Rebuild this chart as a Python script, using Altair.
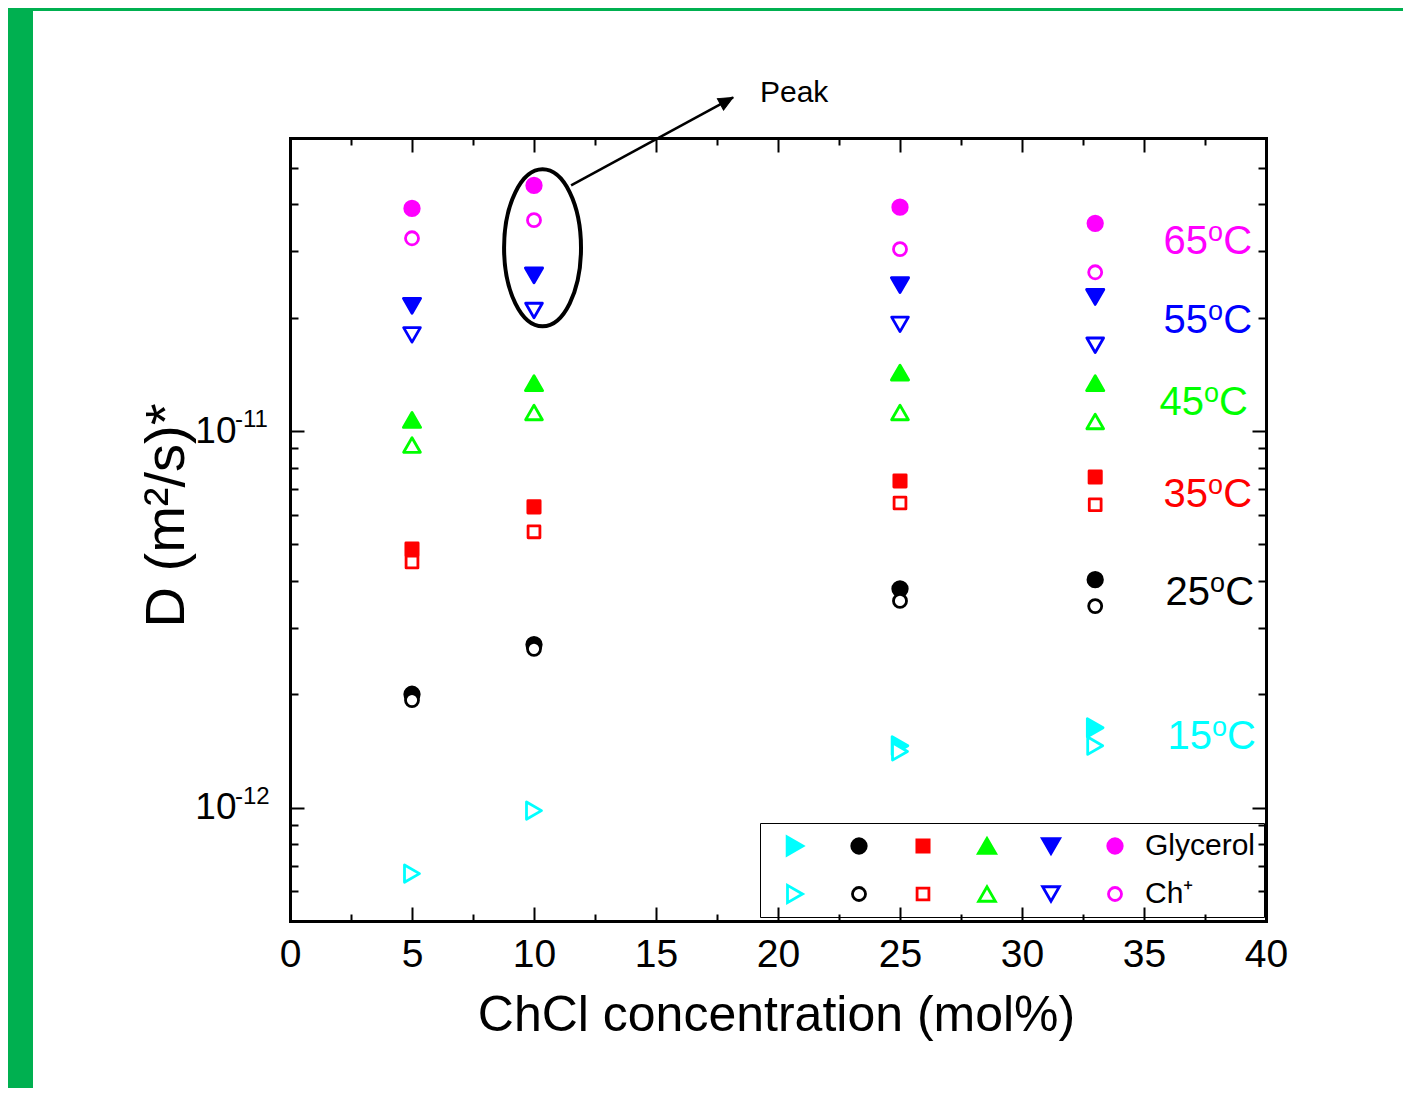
import altair as alt
import pandas as pd

# ---------------- data ----------------
conc = [5, 10, 25, 33]
temps = ["15", "25", "35", "45", "55", "65"]
temp_colors = ["#00FFFF", "#000000", "#FF0000", "#00FF00", "#0000FF", "#FF00FF"]
temp_shapes = ["triangle-right", "circle", "square", "triangle-up", "triangle-down", "circle"]

# Glycerol (filled symbols), D in m^2/s, per temperature, at conc = 5, 10, 25, 33
gly_15 = [None, None, 1.46e-12, 1.63e-12]
gly_25 = [2.00e-12, 2.71e-12, 3.81e-12, 4.03e-12]
gly_35 = [4.86e-12, 6.29e-12, 7.37e-12, 7.55e-12]
gly_45 = [1.07e-11, 1.34e-11, 1.43e-11, 1.34e-11]
gly_55 = [2.15e-11, 2.59e-11, 2.44e-11, 2.27e-11]
gly_65 = [3.90e-11, 4.49e-11, 3.93e-11, 3.56e-11]

# Ch+ (open symbols)
ch_15 = [6.68e-13, 9.82e-13, 1.41e-12, 1.46e-12]
ch_25 = [1.93e-12, 2.64e-12, 3.54e-12, 3.43e-12]
ch_35 = [4.49e-12, 5.40e-12, 6.44e-12, 6.37e-12]
ch_45 = [9.18e-12, 1.12e-11, 1.12e-11, 1.06e-11]
ch_55 = [1.80e-11, 2.09e-11, 1.92e-11, 1.69e-11]
ch_65 = [3.25e-11, 3.63e-11, 3.04e-11, 2.64e-11]

gly_series = [gly_15, gly_25, gly_35, gly_45, gly_55, gly_65]
ch_series = [ch_15, ch_25, ch_35, ch_45, ch_55, ch_65]

# temperature labels on the right
label_temps = ["65", "55", "45", "35", "25", "15"]
label_colors = ["#FF00FF", "#0000FF", "#00FF00", "#FF0000", "#000000", "#00FFFF"]
label_D = [3.17e-11, 1.96e-11, 1.19e-11, 6.77e-12, 3.72e-12, 1.54e-12]
label_xend = [39.43, 39.43, 39.26, 39.43, 39.51, 39.59]

# tick values
x_major = [0, 5, 10, 15, 20, 25, 30, 35, 40]
x_minor = [2.5, 7.5, 12.5, 17.5, 22.5, 27.5, 32.5, 37.5]
y_major = [1e-12, 1e-11]
y_minor = [5e-13, 6e-13, 7e-13, 8e-13, 9e-13,
           2e-12, 3e-12, 4e-12, 5e-12, 6e-12, 7e-12, 8e-12, 9e-12,
           2e-11, 3e-11, 4e-11, 5e-11, 6e-11]
y_sup = ["-12", "-11"]

# "Peak" annotation (ellipse around the 10 mol% peak, arrow, text)
peak_ellipse_x = [10.35]
peak_ellipse_D = [3.066e-11]
arrow_x = [11.52]
arrow_D = [4.49e-11]
arrow_x2 = [18.16]
arrow_D2 = [7.69e-11]
peak_text_x = [19.26]
peak_text_D = [7.88e-11]

# ---------------- tables ----------------
keys_g = ["G" + t for t in temps]
keys_c = ["C" + t for t in temps]
keys = keys_g + keys_c

rows = []
for series, prefix in ((gly_series, "G"), (ch_series, "C")):
    for t, vals in zip(temps, series):
        for c, v in zip(conc, vals):
            if v is not None:
                rows.append({"conc": c, "D": v, "key": prefix + t})
pts = pd.DataFrame(rows)

fill_range = temp_colors + ["white"] * 6
stroke_range = temp_colors + temp_colors
shape_range = temp_shapes + temp_shapes
size_range = [330, 210, 150, 296, 296, 210] + [300, 170, 140, 280, 280, 170]

FONT = "Liberation Sans"
XS = alt.Scale(domain=[0, 40], nice=False, zero=False)
YS = alt.Scale(type="log", domain=[5e-13, 6e-11], nice=False)


def X(field, axis=None):
    return alt.X(field, type="quantitative", scale=XS, axis=axis)


def Y(field, axis=None):
    return alt.Y(field, type="quantitative", scale=YS, axis=axis)


# ---------------- background (green frame) ----------------
bg = alt.Chart(pd.DataFrame({"a": [0]})).mark_rect(color="white").encode(
    x=alt.value(-257), x2=alt.value(1113), y=alt.value(-127), y2=alt.value(950)
)

# ---------------- data points ----------------
leg = alt.Legend(
    orient="none", legendX=470, legendY=685, columns=6, direction="horizontal",
    title=None,
    labelExpr="datum.label == 'G65' ? 'Glycerol' : (datum.label == 'C65' ? 'Ch\u207a' : '')",
    labelFont=FONT, labelFontSize=30, labelColor="black", labelOffset=15, labelLimit=300,
    symbolOffset=12, symbolStrokeWidth=2.8,
    columnPadding=7, rowPadding=18, padding=8,
    strokeColor="black", fillColor="white",
)
points = alt.Chart(pts).mark_point(opacity=1, strokeWidth=2.8, strokeJoin="round").encode(
    x=X("conc"),
    y=Y("D"),
    shape=alt.Shape("key:N", scale=alt.Scale(domain=keys, range=shape_range), legend=leg),
    fill=alt.Fill("key:N", scale=alt.Scale(domain=keys, range=fill_range), legend=leg),
    stroke=alt.Stroke("key:N", scale=alt.Scale(domain=keys, range=stroke_range), legend=leg),
    size=alt.Size("key:N", scale=alt.Scale(type="ordinal", domain=keys, range=size_range), legend=leg),
)

# ---------------- temperature labels ----------------
lab = pd.DataFrame({"t": label_temps, "c": label_colors, "D": label_D, "xe": label_xend})
lab_base = alt.Chart(lab).encode(x=X("xe"), y=Y("D"), color=alt.Color("c:N", scale=None))
lab_num = lab_base.mark_text(align="right", baseline="middle", font=FONT, fontSize=40, dx=-44).encode(text="t:N")
lab_o = lab_base.mark_text(align="right", baseline="middle", font=FONT, fontSize=27, dx=-29, dy=-9, text="o")
lab_c = lab_base.mark_text(align="right", baseline="middle", font=FONT, fontSize=40, text="C")

# ---------------- y superscripts ----------------
sup = pd.DataFrame({"D": y_major, "s": y_sup})
ysup = alt.Chart(sup).mark_text(align="left", baseline="middle", font=FONT, fontSize=24, dx=-55, dy=-11,
                                color="black").encode(x=alt.value(0), y=Y("D"), text="s:N")

# ---------------- peak annotation ----------------
ell_path = ("M 0.49 0 C 0.49 0.5523 0.2706 1 0 1 C -0.2706 1 -0.49 0.5523 -0.49 0 "
            "C -0.49 -0.5523 -0.2706 -1 0 -1 C 0.2706 -1 0.49 -0.5523 0.49 0 Z")
ellipse = alt.Chart(pd.DataFrame({"x": peak_ellipse_x, "D": peak_ellipse_D})).mark_point(
    shape=ell_path, size=24649, filled=False, stroke="black", strokeWidth=4, opacity=1
).encode(x=X("x"), y=Y("D"))

arr = pd.DataFrame({"x": arrow_x, "D": arrow_D, "x2": arrow_x2, "D2": arrow_D2})
arrow_line = alt.Chart(arr).mark_rule(color="black", strokeWidth=2.5).encode(
    x=X("x"), y=Y("D"), x2="x2", y2="D2"
)
arrow_head = alt.Chart(arr).mark_point(
    shape="M 0 0 L -2 -0.9 L -2 0.9 Z", size=207, filled=True, fill="black", stroke="black",
    strokeWidth=1, opacity=1, angle=331.5
).encode(x=X("x2"), y=Y("D2"))

peak_text = alt.Chart(pd.DataFrame({"x": peak_text_x, "D": peak_text_D, "t": ["Peak"]})).mark_text(
    align="left", baseline="middle", font=FONT, fontSize=30, color="black"
).encode(x=X("x"), y=Y("D"), text="t:N")

# ---------------- axes (inward ticks, frame) ----------------
axdf = pd.DataFrame({"x": [0], "D": [1e-11]})


def axis_layer(xaxis=None, yaxis=None):
    return alt.Chart(axdf).mark_point(opacity=0).encode(x=X("x", xaxis), y=Y("D", yaxis))


common = dict(grid=False, tickColor="black", tickWidth=2, domainColor="black", zindex=1)

yl_major = alt.Axis(orient="left", values=y_major, offset=-14, tickSize=14, domain=False,
                    labelExpr="'10'", labelFont=FONT, labelFontSize=37, labelColor="black",
                    labelPadding=54, labelOverlap=False, labelFlush=False, title=None, **common)
yl_minor = alt.Axis(orient="left", values=y_minor, offset=-8, tickSize=8, domain=False,
                    labels=False, title=None, **common)
yl_dom = alt.Axis(orient="left", values=y_major, ticks=False, labels=False, domain=True,
                  domainWidth=3, domainCap="square",
                  title="D (m\u00b2/s)*", titleFont=FONT, titleFontSize=56, titleFontWeight="normal",
                  titleColor="black", titleAngle=270, titleX=-124, titleY=377,
                  titleAlign="center", titleBaseline="middle", **common)
yr_major = alt.Axis(orient="right", values=y_major, offset=-14, tickSize=14, domain=False,
                    labels=False, title=None, **common)
yr_minor = alt.Axis(orient="right", values=y_minor, offset=-8, tickSize=8, domain=False,
                    labels=False, title=None, **common)
yr_dom = alt.Axis(orient="right", values=y_major, ticks=False, labels=False, domain=True,
                  domainWidth=3, domainCap="square", title=None, **common)

xb_major = alt.Axis(orient="bottom", values=x_major, offset=-14, tickSize=14, domain=False,
                    format="d", labelFont=FONT, labelFontSize=39, labelColor="black",
                    labelPadding=14, labelOverlap=False, labelFlush=False, title=None, **common)
xb_minor = alt.Axis(orient="bottom", values=x_minor, offset=-7, tickSize=7, domain=False,
                    labels=False, title=None, **common)
xb_dom = alt.Axis(orient="bottom", values=x_major, ticks=False, labels=False, domain=True,
                  domainWidth=3, domainCap="square",
                  title="ChCl concentration (mol%)", titleFont=FONT, titleFontSize=50,
                  titleFontWeight="normal", titleColor="black", titleX=486, titleY=109,
                  titleAlign="center", titleBaseline="alphabetic", **common)
xt_major = alt.Axis(orient="top", values=x_major, offset=-14, tickSize=14, domain=False,
                    labels=False, title=None, **common)
xt_minor = alt.Axis(orient="top", values=x_minor, offset=-7, tickSize=7, domain=False,
                    labels=False, title=None, **common)
xt_dom = alt.Axis(orient="top", values=x_major, ticks=False, labels=False, domain=True,
                  domainWidth=3, domainCap="square", title=None, **common)

axis_layers = [
    axis_layer(yaxis=yl_major), axis_layer(yaxis=yl_minor), axis_layer(yaxis=yl_dom),
    axis_layer(yaxis=yr_major), axis_layer(yaxis=yr_minor), axis_layer(yaxis=yr_dom),
    axis_layer(xaxis=xb_major), axis_layer(xaxis=xb_minor), axis_layer(xaxis=xb_dom),
    axis_layer(xaxis=xt_major), axis_layer(xaxis=xt_minor), axis_layer(xaxis=xt_dom),
]

chart = alt.layer(
    bg, ellipse, arrow_line, arrow_head, peak_text, points,
    lab_num, lab_o, lab_c, ysup, *axis_layers
).resolve_axis(x="independent", y="independent").properties(
    width=976, height=783,
    autosize=alt.AutoSizeParams(type="none"),
    padding={"left": 282, "top": 130, "right": 137, "bottom": 167},
    background="#00B050",
).configure_view(strokeWidth=0)

chart.save("out.html", embed_options={"renderer": "svg", "actions": False})
